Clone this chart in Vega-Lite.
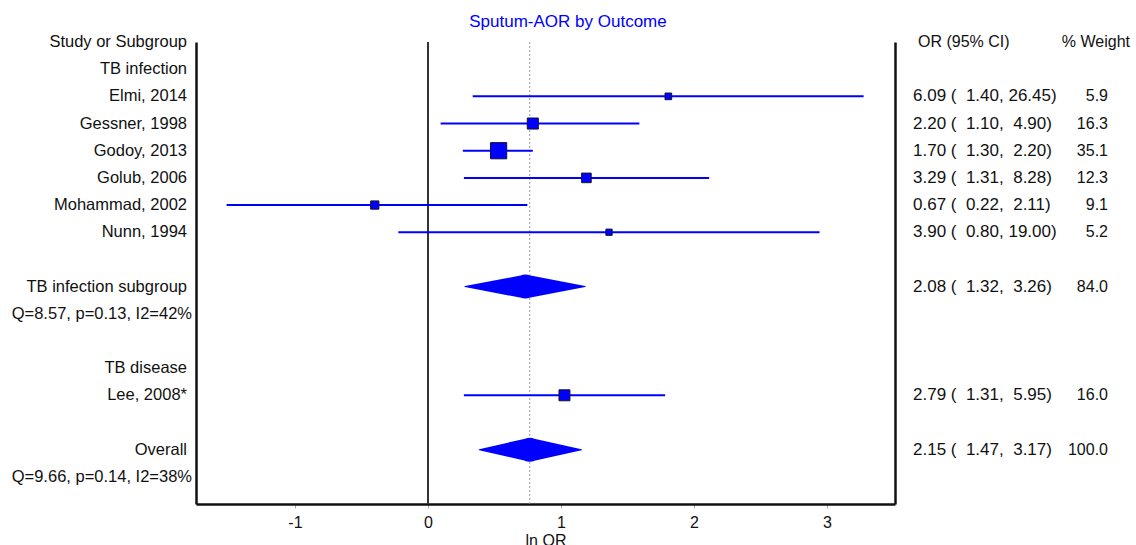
{
  "$schema": "https://vega.github.io/schema/vega-lite/v6.json",
  "padding": {"left": 0, "right": 0, "top": 13, "bottom": 0},
  "title": {"text": "Sputum-AOR by Outcome", "fontSize": 17, "fontWeight": "normal", "color": "#0000ff", "anchor": "middle", "offset": 3},
  "spacing": 0,
  "bounds": "flush",
  "config": {"font": "Liberation Sans", "view": {"stroke": null}},
  "datasets": {
    "forest": [
      {"row": 0, "label": "Study or Subgroup", "kind": "header", "ci": "OR (95% CI)", "wt": "% Weight"},
      {"row": 1, "label": "TB infection", "kind": "group"},
      {"row": 2, "label": "Elmi, 2014", "kind": "study", "lnor": 1.807, "lnlo": 0.336, "lnhi": 3.275, "weight": 5.9, "ci": "6.09 (\u00a0\u00a01.40,\u00a026.45)", "wt": "5.9"},
      {"row": 3, "label": "Gessner, 1998", "kind": "study", "lnor": 0.788, "lnlo": 0.095, "lnhi": 1.589, "weight": 16.3, "ci": "2.20 (\u00a0\u00a01.10,\u00a0\u00a04.90)", "wt": "16.3"},
      {"row": 4, "label": "Godoy, 2013", "kind": "study", "lnor": 0.531, "lnlo": 0.262, "lnhi": 0.788, "weight": 35.1, "ci": "1.70 (\u00a0\u00a01.30,\u00a0\u00a02.20)", "wt": "35.1"},
      {"row": 5, "label": "Golub, 2006", "kind": "study", "lnor": 1.191, "lnlo": 0.270, "lnhi": 2.114, "weight": 12.3, "ci": "3.29 (\u00a0\u00a01.31,\u00a0\u00a08.28)", "wt": "12.3"},
      {"row": 6, "label": "Mohammad, 2002", "kind": "study", "lnor": -0.400, "lnlo": -1.514, "lnhi": 0.747, "weight": 9.1, "ci": "0.67 (\u00a0\u00a00.22,\u00a0\u00a02.11)", "wt": "9.1"},
      {"row": 7, "label": "Nunn, 1994", "kind": "study", "lnor": 1.361, "lnlo": -0.223, "lnhi": 2.944, "weight": 5.2, "ci": "3.90 (\u00a0\u00a00.80,\u00a019.00)", "wt": "5.2"},
      {"row": 9, "label": "TB infection subgroup", "kind": "subtotal", "lnor": 0.732, "lnlo": 0.278, "lnhi": 1.182, "weight": 84.0, "ci": "2.08 (\u00a0\u00a01.32,\u00a0\u00a03.26)", "wt": "84.0"},
      {"row": 10, "label": "Q=8.57, p=0.13, I2=42%", "kind": "stat"},
      {"row": 12, "label": "TB disease", "kind": "group"},
      {"row": 13, "label": "Lee, 2008*", "kind": "study", "lnor": 1.026, "lnlo": 0.270, "lnhi": 1.783, "weight": 16.0, "ci": "2.79 (\u00a0\u00a01.31,\u00a0\u00a05.95)", "wt": "16.0"},
      {"row": 15, "label": "Overall", "kind": "overall", "lnor": 0.765, "lnlo": 0.385, "lnhi": 1.154, "weight": 100.0, "ci": "2.15 (\u00a0\u00a01.47,\u00a0\u00a03.17)", "wt": "100.0"},
      {"row": 16, "label": "Q=9.66, p=0.14, I2=38%", "kind": "stat"}
    ]
  },
  "hconcat": [
    {
      "width": 196,
      "height": 462,
      "data": {"name": "forest"},
      "layer": [
        {
          "transform": [{"filter": "datum.kind != 'stat'"}],
          "mark": {"type": "text", "align": "right", "baseline": "middle", "x": "width", "dx": -9, "fontSize": 16.5, "color": "#111111"},
          "encoding": {
            "y": {"field": "row", "type": "quantitative", "scale": {"domain": [0, 17], "reverse": true, "nice": false, "zero": false}, "axis": null},
            "text": {"field": "label"}
          }
        },
        {
          "transform": [{"filter": "datum.kind == 'stat'"}],
          "mark": {"type": "text", "align": "right", "baseline": "middle", "x": "width", "dx": -4, "fontSize": 16.5, "color": "#111111"},
          "encoding": {
            "y": {"field": "row", "type": "quantitative", "scale": {"domain": [0, 17], "reverse": true, "nice": false, "zero": false}, "axis": null},
            "text": {"field": "label"}
          }
        }
      ]
    },
    {
      "width": 699,
      "height": 462,
      "data": {"name": "forest"},
      "resolve": {"axis": {"y": "independent"}},
      "layer": [
        {
          "mark": {"type": "rule", "color": "#333333", "strokeWidth": 1},
          "encoding": {
            "x": {"datum": 0, "type": "quantitative", "scale": {"domain": [-1.744, 3.511], "nice": false, "zero": false},
              "axis": {"values": [-1, 0, 1, 2, 3], "labelExpr": "datum.value < 0 ? '-' + (-datum.value) : '' + datum.value", "title": "ln OR", "grid": false, "domainColor": "#111111", "domainWidth": 2.5, "tickColor": "#aaaaaa", "tickSize": 4, "labelFontSize": 16, "labelColor": "#111111", "labelPadding": 6, "titleFontSize": 16, "titleFontWeight": "normal", "titleColor": "#111111", "titlePadding": 2, "labelFlush": false}}
          }
        },
        {
          "transform": [{"filter": "datum.kind == 'overall'"}],
          "mark": {"type": "rule", "color": "#999999", "strokeWidth": 1, "strokeDash": [2, 2]},
          "encoding": {
            "x": {"field": "lnor", "type": "quantitative", "scale": {"domain": [-1.744, 3.511], "nice": false, "zero": false},
              "axis": {"values": [-1, 0, 1, 2, 3], "labelExpr": "datum.value < 0 ? '-' + (-datum.value) : '' + datum.value", "title": "ln OR", "grid": false, "domainColor": "#111111", "domainWidth": 2.5, "tickColor": "#aaaaaa", "tickSize": 4, "labelFontSize": 16, "labelColor": "#111111", "labelPadding": 6, "titleFontSize": 16, "titleFontWeight": "normal", "titleColor": "#111111", "titlePadding": 2, "labelFlush": false}}
          }
        },
        {
          "transform": [{"filter": "datum.kind == 'study'"}],
          "mark": {"type": "rule", "color": "#0000ff", "strokeWidth": 2},
          "encoding": {
            "x": {"field": "lnlo", "type": "quantitative", "scale": {"domain": [-1.744, 3.511], "nice": false, "zero": false},
              "axis": {"values": [-1, 0, 1, 2, 3], "labelExpr": "datum.value < 0 ? '-' + (-datum.value) : '' + datum.value", "title": "ln OR", "grid": false, "domainColor": "#111111", "domainWidth": 2.5, "tickColor": "#aaaaaa", "tickSize": 4, "labelFontSize": 16, "labelColor": "#111111", "labelPadding": 6, "titleFontSize": 16, "titleFontWeight": "normal", "titleColor": "#111111", "titlePadding": 2, "labelFlush": false}},
            "x2": {"field": "lnhi"},
            "y": {"field": "row", "type": "quantitative", "scale": {"domain": [0, 17], "reverse": true, "nice": false, "zero": false},
              "axis": {"orient": "left", "labels": false, "ticks": false, "grid": false, "title": null, "domain": true, "domainColor": "#111111", "domainWidth": 2.5}}
          }
        },
        {
          "transform": [{"filter": "datum.kind == 'study'"}],
          "mark": {"type": "point", "shape": "square", "filled": true, "fill": "#0000ff", "stroke": "#111133", "strokeWidth": 1, "opacity": 1},
          "encoding": {
            "x": {"field": "lnor", "type": "quantitative", "scale": {"domain": [-1.744, 3.511], "nice": false, "zero": false},
              "axis": {"values": [-1, 0, 1, 2, 3], "labelExpr": "datum.value < 0 ? '-' + (-datum.value) : '' + datum.value", "title": "ln OR", "grid": false, "domainColor": "#111111", "domainWidth": 2.5, "tickColor": "#aaaaaa", "tickSize": 4, "labelFontSize": 16, "labelColor": "#111111", "labelPadding": 6, "titleFontSize": 16, "titleFontWeight": "normal", "titleColor": "#111111", "titlePadding": 2, "labelFlush": false}},
            "y": {"field": "row", "type": "quantitative", "scale": {"domain": [0, 17], "reverse": true, "nice": false, "zero": false},
              "axis": {"orient": "right", "labels": false, "ticks": false, "grid": false, "title": null, "domain": true, "domainColor": "#111111", "domainWidth": 2.5}},
            "size": {"field": "weight", "type": "quantitative", "scale": {"domain": [0, 35.1], "range": [0, 263]}, "legend": null}
          }
        },
        {
          "transform": [
            {"filter": "datum.kind == 'subtotal' || datum.kind == 'overall'"},
            {"fold": ["lnlo", "lnor", "lnhi"], "as": ["key", "val"]}
          ],
          "mark": {"type": "trail", "color": "#0000ff", "opacity": 1},
          "encoding": {
            "x": {"field": "val", "type": "quantitative", "scale": {"domain": [-1.744, 3.511], "nice": false, "zero": false},
              "axis": {"values": [-1, 0, 1, 2, 3], "labelExpr": "datum.value < 0 ? '-' + (-datum.value) : '' + datum.value", "title": "ln OR", "grid": false, "domainColor": "#111111", "domainWidth": 2.5, "tickColor": "#aaaaaa", "tickSize": 4, "labelFontSize": 16, "labelColor": "#111111", "labelPadding": 6, "titleFontSize": 16, "titleFontWeight": "normal", "titleColor": "#111111", "titlePadding": 2, "labelFlush": false}},
            "y": {"field": "row", "type": "quantitative", "scale": {"domain": [0, 17], "reverse": true, "nice": false, "zero": false}, "axis": null},
            "detail": {"field": "label"},
            "order": {"field": "val", "type": "quantitative"},
            "size": {"condition": {"test": "datum.key == 'lnor'", "value": 24}, "value": 0}
          }
        }
      ]
    },
    {
      "width": 241,
      "height": 462,
      "data": {"name": "forest"},
      "layer": [
        {
          "transform": [{"filter": "datum.kind == 'header'"}],
          "mark": {"type": "text", "align": "left", "baseline": "middle", "x": 0, "dx": 23, "fontSize": 16, "color": "#111111"},
          "encoding": {
            "y": {"field": "row", "type": "quantitative", "scale": {"domain": [0, 17], "reverse": true, "nice": false, "zero": false}, "axis": null},
            "text": {"field": "ci"}
          }
        },
        {
          "transform": [{"filter": "datum.kind == 'header'"}],
          "mark": {"type": "text", "align": "right", "baseline": "middle", "x": 0, "dx": 235, "fontSize": 16, "color": "#111111"},
          "encoding": {
            "y": {"field": "row", "type": "quantitative", "scale": {"domain": [0, 17], "reverse": true, "nice": false, "zero": false}, "axis": null},
            "text": {"field": "wt"}
          }
        },
        {
          "transform": [{"filter": "datum.kind != 'header' && isValid(datum.ci)"}],
          "mark": {"type": "text", "align": "left", "baseline": "middle", "x": 0, "dx": 18, "fontSize": 17, "color": "#111111"},
          "encoding": {
            "y": {"field": "row", "type": "quantitative", "scale": {"domain": [0, 17], "reverse": true, "nice": false, "zero": false}, "axis": null},
            "text": {"field": "ci"}
          }
        },
        {
          "transform": [{"filter": "datum.kind != 'header' && isValid(datum.wt)"}],
          "mark": {"type": "text", "align": "right", "baseline": "middle", "x": 0, "dx": 213, "fontSize": 16, "color": "#111111"},
          "encoding": {
            "y": {"field": "row", "type": "quantitative", "scale": {"domain": [0, 17], "reverse": true, "nice": false, "zero": false}, "axis": null},
            "text": {"field": "wt"}
          }
        }
      ]
    }
  ]
}
